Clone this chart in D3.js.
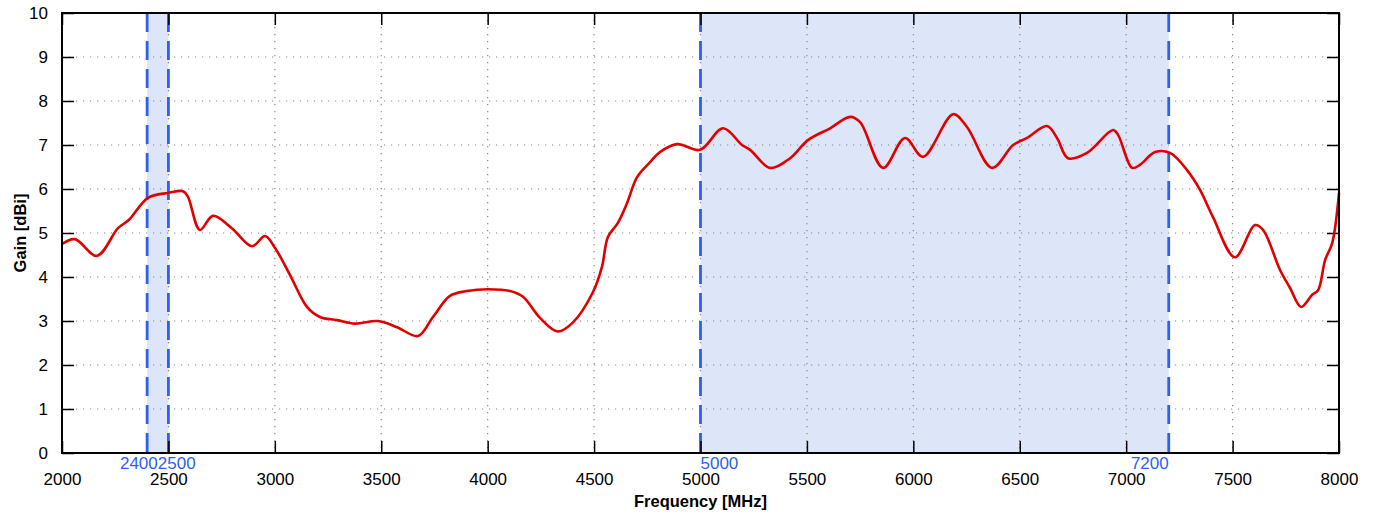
<!DOCTYPE html>
<html>
<head>
<meta charset="utf-8">
<script src="https://cdn.jsdelivr.net/npm/d3@7"></script>
<style>
  body { margin: 0; background: #fff; }
  text { font-family: "Liberation Sans", Arial, sans-serif; }
</style>
</head>
<body>
<svg id="chart" width="1376" height="516"></svg>
<script>
var freqs = [2000, 2061, 2164, 2263, 2315, 2404, 2498, 2569, 2592, 2648, 2709, 2798, 2893, 2954, 3001,
    3071, 3151, 3212, 3292, 3377, 3485, 3574, 3673, 3743, 3823, 3903, 4002, 4105, 4166, 4246,
    4330, 4401, 4495, 4537, 4565, 4612, 4655, 4702, 4763, 4810, 4890, 4998, 5106, 5195, 5233,
    5327, 5421, 5505, 5609, 5703, 5750, 5858, 5961, 6045, 6187, 6252, 6370, 6469, 6534, 6628,
    6675, 6727, 6816, 6938, 6962, 7028, 7065, 7136, 7206, 7286, 7347, 7408, 7511, 7605, 7643,
    7723, 7770, 7822, 7873, 7902, 7935, 7968, 8000]
var gains = [4.75, 4.86, 4.48, 5.11, 5.3, 5.80, 5.91, 5.95, 5.82, 5.07, 5.39, 5.11, 4.70, 4.93, 4.66,
    4.05, 3.32, 3.09, 3.02, 2.94, 3.00, 2.86, 2.66, 3.09, 3.57, 3.68, 3.72, 3.68, 3.55, 3.07,
    2.76, 2.97, 3.66, 4.23, 4.91, 5.23, 5.68, 6.27, 6.61, 6.84, 7.02, 6.89, 7.38, 7.00, 6.89,
    6.48, 6.70, 7.11, 7.38, 7.64, 7.52, 6.48, 7.16, 6.73, 7.70, 7.41, 6.48, 7.00, 7.16, 7.43,
    7.16, 6.70, 6.82, 7.34, 7.23, 6.48, 6.55, 6.84, 6.82, 6.43, 5.98, 5.36, 4.45, 5.18, 5.07,
    4.16, 3.75, 3.32, 3.59, 3.70, 4.39, 4.77, 5.91]

var xTicks = [2000, 2500, 3000, 3500, 4000, 4500, 5000, 5500, 6000, 6500, 7000, 7500, 8000]
var yTicks = [0, 1, 2, 3, 4, 5, 6, 7, 8, 9, 10]

// frequency bands (start, end) and how their labels sit
var bandStart = [2400, 5000]
var bandEnd = [2500, 7200]
var bandNarrow = [true, false]

var svg = d3.select("#chart")
var margin = {top: 13, right: 37, bottom: 63, left: 62}
var width = 1376 - margin.left - margin.right
var height = 516 - margin.top - margin.bottom

var x = d3.scaleLinear().domain([2000, 8000]).range([0, width])
var y = d3.scaleLinear().domain([0, 10]).range([height, 0])

var g = svg.append("g")
    .attr("transform", "translate(" + margin.left + "," + margin.top + ")")

var bandColor = "#2f5ff0"
var fontSize = 17

// band shading
bandStart.forEach(function(b, i) {
    g.append("rect")
        .attr("x", x(b))
        .attr("y", 0)
        .attr("width", x(bandEnd[i]) - x(b))
        .attr("height", height)
        .attr("fill", "#dde6f8")
})

// grid
g.append("g").selectAll("line").data(xTicks.slice(1, -1)).join("line")
    .attr("x1", function(d) { return x(d) }).attr("x2", function(d) { return x(d) })
    .attr("y1", 0).attr("y2", height)
    .attr("stroke", "#888").attr("stroke-width", 1.2).attr("stroke-dasharray", "1.2,5.8")
g.append("g").selectAll("line").data(yTicks.slice(1, -1)).join("line")
    .attr("y1", function(d) { return y(d) }).attr("y2", function(d) { return y(d) })
    .attr("x1", 0).attr("x2", width)
    .attr("stroke", "#888").attr("stroke-width", 1.2).attr("stroke-dasharray", "1.2,5.8")

// band edges
bandStart.forEach(function(b, i) {
    [b, bandEnd[i]].forEach(function(f) {
        g.append("line")
            .attr("x1", x(f)).attr("x2", x(f))
            .attr("y1", 0).attr("y2", height)
            .attr("stroke", bandColor).attr("stroke-width", 2.8)
            .attr("stroke-dasharray", "19,9")
    })
})

// axes: inward ticks on all four sides
var tickLen = 12
g.append("g")
    .attr("transform", "translate(0," + height + ")")
    .call(d3.axisBottom(x).tickValues(xTicks).tickSize(-tickLen).tickPadding(20).tickFormat(d3.format("d")))
g.append("g")
    .call(d3.axisTop(x).tickValues(xTicks).tickSize(-tickLen).tickFormat(""))
g.append("g")
    .call(d3.axisLeft(y).tickValues(yTicks).tickSize(-tickLen).tickPadding(14).tickFormat(d3.format("d")))
g.append("g")
    .attr("transform", "translate(" + width + ",0)")
    .call(d3.axisRight(y).tickValues(yTicks).tickSize(-tickLen).tickFormat(""))

g.selectAll(".domain").remove()
g.selectAll(".tick line").attr("stroke", "#000").attr("stroke-width", 1.5)
g.selectAll(".tick text").attr("font-size", fontSize).attr("fill", "#000")
    .attr("font-family", "'Liberation Sans', Arial, sans-serif")

// curve
var pts = freqs.map(function(f, i) { return [f, gains[i]] })
var line = d3.line()
    .curve(d3.curveCatmullRom.alpha(0.5))
    .x(function(d) { return x(d[0]) })
    .y(function(d) { return y(d[1]) })
g.append("path")
    .datum(pts)
    .attr("d", line)
    .attr("fill", "none")
    .attr("stroke", "#e00000")
    .attr("stroke-width", 2.6)
    .attr("stroke-linejoin", "round")

// frame
g.append("rect")
    .attr("width", width).attr("height", height)
    .attr("fill", "none").attr("stroke", "#000").attr("stroke-width", 2)

// band labels: wide bands label inside their edges, narrow ones meet at the middle
bandStart.forEach(function(b, i) {
    var e = bandEnd[i]
    var mid = (x(b) + x(e)) / 2
    var lx0 = bandNarrow[i] ? mid : x(b), a0 = bandNarrow[i] ? "end" : "start"
    var lx1 = bandNarrow[i] ? mid : x(e), a1 = bandNarrow[i] ? "start" : "end"
    g.append("text").attr("x", lx0).attr("y", height + 15.5)
        .attr("text-anchor", a0).attr("font-size", fontSize).attr("fill", bandColor).text(b)
    g.append("text").attr("x", lx1).attr("y", height + 15.5)
        .attr("text-anchor", a1).attr("font-size", fontSize).attr("fill", bandColor).text(e)
})

// axis titles
svg.append("text")
    .attr("x", margin.left + width / 2).attr("y", 507)
    .attr("text-anchor", "middle").attr("font-size", 16.5).attr("font-weight", "bold")
    .text("Frequency [MHz]")
svg.append("text")
    .attr("transform", "translate(26," + (margin.top + height / 2) + ") rotate(-90)")
    .attr("text-anchor", "middle").attr("font-size", 16.5).attr("font-weight", "bold")
    .text("Gain [dBi]")
</script>
</body>
</html>
